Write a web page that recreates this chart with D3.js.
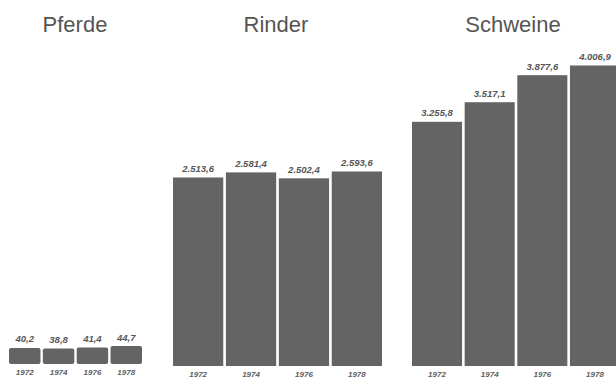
<!DOCTYPE html>
<html>
<head>
<meta charset="utf-8">
<script src="https://cdn.jsdelivr.net/npm/d3@7"></script>
<style>
  html, body { margin: 0; padding: 0; background: #ffffff; }
  svg { display: block; }
</style>
</head>
<body>
<script>
// Viehbestand (in 1000 Stück), Zählungsjahre
const years = ["1972", "1974", "1976", "1978"];
const groups = ["Pferde", "Rinder", "Schweine"];
const pferde = [40.2, 38.8, 41.4, 44.7];
const rinder = [2513.6, 2581.4, 2502.4, 2593.6];
const schweine = [3255.8, 3517.1, 3877.6, 4006.9];

const W = 616, H = 378;
const barColor = "#646464";
const textColor = "#555555";

const fmt = v => {
  const s = v.toFixed(1).split(".");
  return s[0].replace(/\B(?=(\d{3})+(?!\d))/g, ".") + "," + s[1];
};

const svg = d3.select("body").append("svg")
  .attr("width", W).attr("height", H);

// Rinder and Schweine share one value scale; Pferde get their own enlarged scale
const yMain = d3.scaleLinear().domain([0, 4000]).range([366, 66]);
const yPferde = d3.scaleLinear().domain([0, 50]).range([364, 344]);

const panels = [
  { name: groups[0], values: pferde, x: [9, 142], pad: 0.07, y: yPferde, rx: 2, titleX: 75 },
  { name: groups[1], values: rinder, x: [173, 382], pad: 0.05, y: yMain, rx: 0, titleX: 276 },
  { name: groups[2], values: schweine, x: [412, 620], pad: 0.05, y: yMain, rx: 0, titleX: 513 }
];

panels.forEach(p => {
  const x = d3.scaleBand().domain(years).range(p.x).paddingInner(p.pad);
  const g = svg.append("g");
  const data = years.map((yr, i) => ({ yr, v: p.values[i] }));

  g.append("text")
    .attr("x", p.titleX).attr("y", 31.5)
    .attr("text-anchor", "middle")
    .attr("font-family", "'Liberation Sans', Arial, sans-serif")
    .attr("font-size", 22)
    .attr("fill", textColor)
    .text(p.name);

  g.selectAll("rect").data(data).join("rect")
    .attr("x", d => x(d.yr))
    .attr("width", x.bandwidth())
    .attr("y", d => p.y(d.v))
    .attr("height", d => p.y(0) - p.y(d.v))
    .attr("rx", p.rx)
    .attr("fill", barColor);

  g.selectAll("text.val").data(data).join("text")
    .attr("class", "val")
    .attr("x", d => x(d.yr) + x.bandwidth() / 2)
    .attr("y", d => p.y(d.v) - 5.5)
    .attr("text-anchor", "middle")
    .attr("font-family", "'Liberation Sans', Arial, sans-serif")
    .attr("font-style", "italic")
    .attr("font-weight", "bold")
    .attr("font-size", 9.5)
    .attr("fill", "#575757")
    .text(d => fmt(d.v));

  // year labels under the bars
  const axis = d3.axisBottom(x).tickSize(0).tickPadding(0);
  const ax = g.append("g").attr("transform", `translate(0,${p.y(0) + 5})`).call(axis);
  ax.select(".domain").remove();
  ax.selectAll("text")
    .attr("dy", "0.71em")
    .attr("font-family", "'Liberation Sans', Arial, sans-serif")
    .attr("font-style", "italic")
    .attr("font-weight", "bold")
    .attr("font-size", 8)
    .attr("fill", "#606060");
});
</script>
</body>
</html>
